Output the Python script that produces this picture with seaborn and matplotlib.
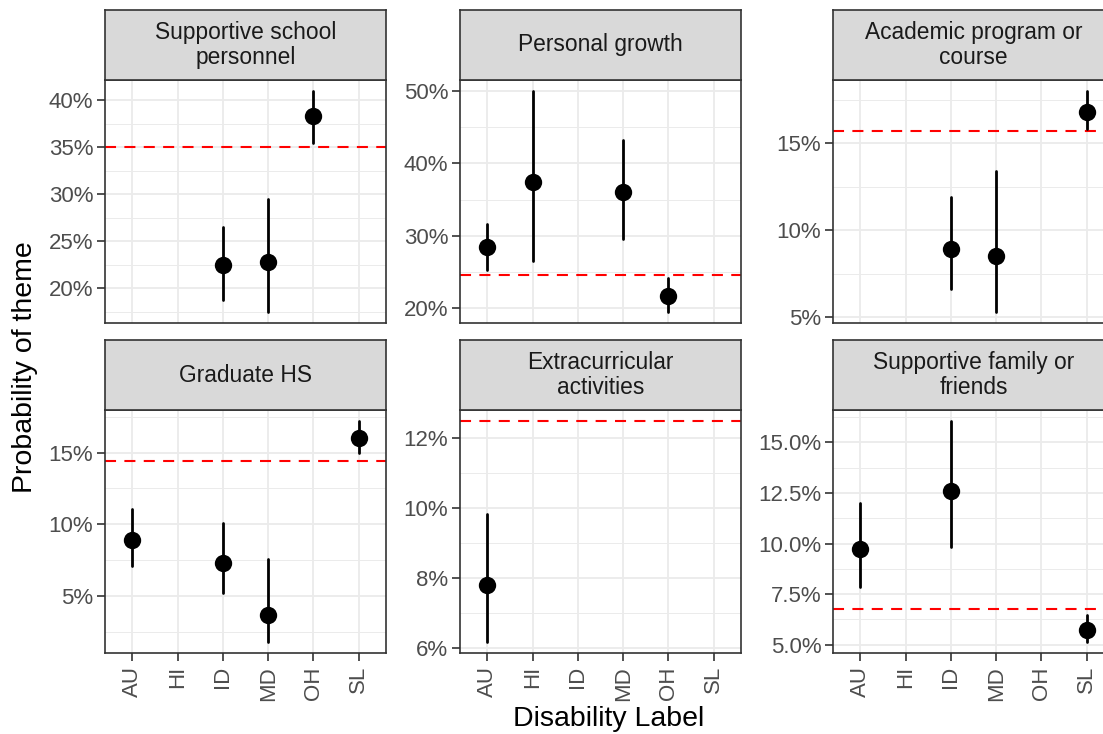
import numpy as np
import pandas as pd
import matplotlib
matplotlib.use('Agg')
import matplotlib.pyplot as plt
from matplotlib.ticker import MultipleLocator, FuncFormatter
import seaborn as sns

sns.set_style('white')
plt.rcParams['font.family'] = ['Liberation Sans', 'DejaVu Sans']

# categories on the x axis
labels = ['AU', 'HI', 'ID', 'MD', 'OH', 'SL']

# facet titles
themes = ['Supportive school\npersonnel', 'Personal growth', 'Academic program or\ncourse',
          'Graduate HS', 'Extracurricular\nactivities', 'Supportive family or\nfriends']

# estimates and intervals (percent)
school_lab = ['ID', 'MD', 'OH']
school_est = [22.5, 22.8, 38.3]
school_lo = [18.8, 17.5, 35.5]
school_hi = [26.5, 29.5, 41.0]
school_ref = 35.0

growth_lab = ['AU', 'HI', 'MD', 'OH']
growth_est = [28.4, 37.5, 36.1, 21.7]
growth_lo = [25.3, 26.5, 29.6, 19.5]
growth_hi = [31.6, 50.0, 43.3, 24.2]
growth_ref = 24.6

academic_lab = ['ID', 'MD', 'SL']
academic_est = [8.9, 8.5, 16.8]
academic_lo = [6.6, 5.3, 15.8]
academic_hi = [11.9, 13.4, 18.0]
academic_ref = 15.7

grad_lab = ['AU', 'ID', 'MD', 'SL']
grad_est = [8.9, 7.3, 3.7, 16.0]
grad_lo = [7.1, 5.2, 1.8, 15.0]
grad_hi = [11.1, 10.1, 7.6, 17.2]
grad_ref = 14.4

extra_lab = ['AU']
extra_est = [7.8]
extra_lo = [6.16]
extra_hi = [9.84]
extra_ref = 12.5

family_lab = ['AU', 'ID', 'SL']
family_est = [9.75, 12.6, 5.75]
family_lo = [7.86, 9.85, 5.14]
family_hi = [12.0, 16.06, 6.49]
family_ref = 6.77

series = [
    (school_lab, school_est, school_lo, school_hi, school_ref, 5, 2.5, '{:.0f}%'),
    (growth_lab, growth_est, growth_lo, growth_hi, growth_ref, 10, 5, '{:.0f}%'),
    (academic_lab, academic_est, academic_lo, academic_hi, academic_ref, 5, 2.5, '{:.0f}%'),
    (grad_lab, grad_est, grad_lo, grad_hi, grad_ref, 5, 2.5, '{:.0f}%'),
    (extra_lab, extra_est, extra_lo, extra_hi, extra_ref, 2, 1, '{:.0f}%'),
    (family_lab, family_est, family_lo, family_hi, family_ref, 2.5, 1.25, '{:.1f}%'),
]

W, H = 1103, 734
fig = plt.figure(figsize=(W / 100, H / 100), dpi=100)

col_left = [105, 460, 833]
pw = 281
rows = [(10, 80, 323), (340, 410, 653)]

border = '#333333'
for i, (lab, est, lo, hi, ref, major, minor, fmt) in enumerate(series):
    r, c = divmod(i, 3)
    s_top, p_top, p_bot = rows[r]
    x0 = col_left[c]
    ax = fig.add_axes([x0 / W, 1 - p_bot / H, pw / W, (p_bot - p_top) / H])
    sax = fig.add_axes([x0 / W, 1 - p_top / H, pw / W, (p_top - s_top) / H])

    # long table: lower, estimate, upper for each label
    df = pd.DataFrame({
        'label': lab * 3,
        'value': list(lo) + list(est) + list(hi),
    })
    sns.pointplot(data=df, x='label', y='value', order=labels, estimator='median',
                  errorbar=lambda v: (v.min(), v.max()), color='black',
                  linestyle='none', marker='o', markersize=12.5, markeredgewidth=0,
                  err_kws={'linewidth': 2.0}, ax=ax)
    ax.axhline(ref, color='red', lw=1.5, ls=(0, (5.3, 4.0)), zorder=1)

    vals = list(lo) + list(hi) + [ref]
    span = max(vals) - min(vals)
    ax.set_ylim(min(vals) - 0.05 * span, max(vals) + 0.05 * span)
    ax.set_xlim(-0.6, len(labels) - 0.4)

    ax.yaxis.set_major_locator(MultipleLocator(major))
    ax.yaxis.set_minor_locator(MultipleLocator(minor))
    ax.yaxis.set_major_formatter(FuncFormatter(lambda v, p, f=fmt: f.format(v)))
    ax.set_axisbelow(True)
    ax.grid(True, which='major', color='#EBEBEB', lw=1.3)
    ax.grid(True, which='minor', axis='y', color='#EBEBEB', lw=0.7)
    ax.set_facecolor('white')
    for sp in ax.spines.values():
        sp.set_color(border)
        sp.set_linewidth(1.2)
    ax.set_xlabel('')
    ax.set_ylabel('')
    ax.tick_params(axis='y', which='major', left=True, length=5.5, width=1.2, color=border,
                   labelsize=16, labelcolor='#4D4D4D', pad=3)
    ax.tick_params(axis='y', which='minor', left=False)
    if r == 1:
        ax.tick_params(axis='x', bottom=True, length=5.5, width=1.2, color=border,
                       labelsize=16, labelcolor='#4D4D4D', labelrotation=90, pad=4)
    else:
        ax.tick_params(axis='x', bottom=False, labelbottom=False)

    sax.set_facecolor('#D9D9D9')
    sax.set_xticks([])
    sax.set_yticks([])
    for sp in sax.spines.values():
        sp.set_color(border)
        sp.set_linewidth(1.2)
    sax.text(0.5, 0.5, themes[i], ha='center', va='center', fontsize=16.4,
             color='#1A1A1A', linespacing=1.1, transform=sax.transAxes)

fig.text(25 / W, 1 - 367 / H, 'Probability of theme', rotation=90, ha='center',
         va='center', fontsize=20.5, color='black')
fig.text(609 / W, 2 / H, 'Disability Label', ha='center', va='bottom',
         fontsize=20.5, color='black')

fig.savefig('out.png', dpi=100)
